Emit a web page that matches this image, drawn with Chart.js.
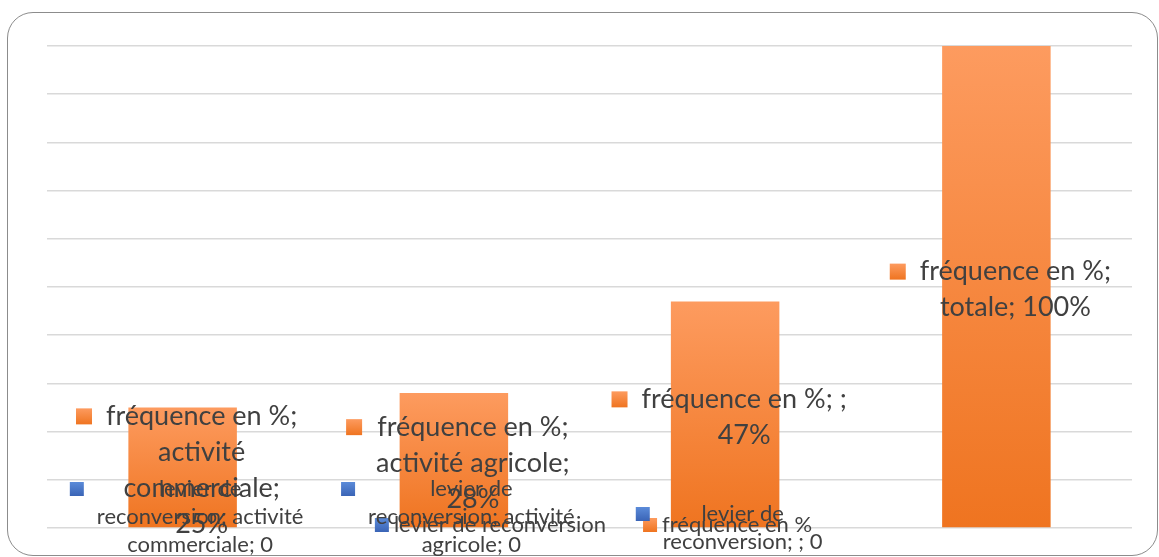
<!DOCTYPE html>
<html>
<head>
<meta charset="utf-8">
<script src="https://cdn.jsdelivr.net/npm/chart.js@4.4.1/dist/chart.umd.min.js"></script>
<style>
  html, body { margin: 0; padding: 0; background: #ffffff; }
  #wrap { position: relative; width: 1159px; height: 557px; overflow: hidden; }
  #frame { position: absolute; left: 7px; top: 12px; width: 1151px; height: 544px;
           border: 1px solid #8c8c8c; border-radius: 26px; box-sizing: border-box; }
  canvas { position: absolute; left: 0; top: 0; }
</style>
</head>
<body>
<div id="wrap">
  <div id="frame"></div>
  <canvas id="chart" width="1159" height="557"></canvas>
</div>
<script>
// Categories and series
const categories = ['activité commerciale', 'activité agricole', '', 'totale'];
const frequenceValues = [25, 28, 47, 100];
const levierValues = [0, 0, 0, null];
const seriesNames = ['fréquence en %', 'levier de reconversion'];
const valueSuffixes = ['%', ''];
// Value axis
const yMin = 0;
const yMax = 100;
const yStep = 10;

const FONT_FAMILY = 'Lato, "Noto Sans", sans-serif';
const TEXT_COLOR = '#404040';
const WRAP_WIDTH = 212;

// Style of the data labels of each series
const labelStyles = [
  { size: 27, lineH: 36, key: 16, gap: 14 },
  { size: 22, lineH: 28, key: 14, gap: 13 }
];

function orangeFill(ctx, top, bottom) {
  const g = ctx.createLinearGradient(0, top, 0, bottom);
  g.addColorStop(0, '#FD9B5F');
  g.addColorStop(1, '#EF7420');
  return g;
}
function blueFill(ctx, top, bottom) {
  const g = ctx.createLinearGradient(0, top, 0, bottom);
  g.addColorStop(0, '#5B8BD9');
  g.addColorStop(1, '#3A64B6');
  return g;
}
const keyFills = [orangeFill, blueFill];

function barGradient(context) {
  const chart = context.chart;
  const { ctx, chartArea, scales } = chart;
  if (!chartArea || context.type !== 'data' || !scales.y) return '#F58634';
  const top = scales.y.getPixelForValue(context.raw);
  const base = scales.y.getPixelForValue(0);
  if (!isFinite(top) || Math.abs(base - top) < 1) return '#F58634';
  return orangeFill(ctx, top, base);
}

function wrapWords(ctx, text, maxW) {
  const words = text.split(' ');
  const lines = [];
  let cur = '';
  for (const w of words) {
    const trial = cur ? cur + ' ' + w : w;
    if (cur && ctx.measureText(trial).width > maxW) {
      lines.push(cur);
      cur = w;
    } else {
      cur = trial;
    }
  }
  if (cur) lines.push(cur);
  return lines;
}

function drawKey(ctx, ds, x, y, size) {
  ctx.fillStyle = keyFills[ds](ctx, y, y + size);
  ctx.fillRect(x, y, size, size);
}

// Data labels "series; category; value" with legend key, plus bottom legend
const labelPlugin = {
  id: 'seriesLabels',
  afterDraw(chart) {
    const ctx = chart.ctx;
    const area = chart.chartArea;
    ctx.save();
    ctx.textBaseline = 'middle';

    // bottom legend
    const small = labelStyles[1];
    ctx.font = small.size + 'px ' + FONT_FAMILY;
    const legendOrder = [1, 0];
    const itemGap = 37, keyGap = 5;
    const widths = legendOrder.map(i => small.key + keyGap + ctx.measureText(seriesNames[i]).width);
    const total = widths.reduce((a, b) => a + b, 0) + itemGap * (legendOrder.length - 1);
    let lx = (area.left + area.right) / 2 + 4 - total / 2;
    const ly = 525;
    legendOrder.forEach((i, k) => {
      drawKey(ctx, i, lx, ly - small.key / 2, small.key);
      ctx.fillStyle = TEXT_COLOR;
      ctx.textAlign = 'left';
      ctx.fillText(seriesNames[i], lx + small.key + keyGap, ly);
      lx += widths[k] + itemGap;
    });

    // data labels
    chart.data.datasets.forEach((dataset, ds) => {
      const meta = chart.getDatasetMeta(ds);
      const st = labelStyles[ds];
      ctx.font = st.size + 'px ' + FONT_FAMILY;
      dataset.data.forEach((v, j) => {
        if (v === null || v === undefined) return;
        const bar = meta.data[j];
        const text = seriesNames[ds] + '; ' + categories[j] + '; ' + v + valueSuffixes[ds];
        const lines = wrapWords(ctx, text, WRAP_WIDTH);
        const textW = Math.max(...lines.map(l => ctx.measureText(l).width));
        const boxW = st.key + st.gap + textW;
        const boxLeft = bar.x + 4 - boxW / 2;
        const textCx = boxLeft + st.key + st.gap + textW / 2;
        const blockH = lines.length * st.lineH;
        let center = ds === 0 ? (bar.y + bar.base) / 2 + 3 : bar.base;
        const maxBottom = 559;
        if (center + blockH / 2 > maxBottom) center = maxBottom - blockH / 2;
        const firstY = center - blockH / 2 + st.lineH / 2;
        drawKey(ctx, ds, boxLeft, firstY - st.key / 2, st.key);
        ctx.fillStyle = TEXT_COLOR;
        ctx.textAlign = 'center';
        lines.forEach((l, k) => ctx.fillText(l, textCx, firstY + k * st.lineH));
      });
    });
    ctx.restore();
  }
};

new Chart(document.getElementById('chart'), {
  type: 'bar',
  data: {
    labels: categories,
    datasets: [
      {
        label: seriesNames[0],
        data: frequenceValues,
        backgroundColor: barGradient,
        grouped: false,
        categoryPercentage: 1,
        barPercentage: 0.4,
        order: 1
      },
      {
        label: seriesNames[1],
        data: levierValues,
        backgroundColor: '#4472C4',
        grouped: false,
        categoryPercentage: 1,
        barPercentage: 0.4,
        order: 0
      }
    ]
  },
  options: {
    responsive: false,
    maintainAspectRatio: false,
    animation: false,
    layout: { padding: { left: 47, right: 27, top: 46, bottom: 29 } },
    plugins: { legend: { display: false }, tooltip: { enabled: false } },
    scales: {
      x: { display: false },
      y: {
        min: yMin, max: yMax,
        ticks: { display: false, stepSize: yStep },
        grid: { color: '#d9d9d9', lineWidth: 1.5, drawTicks: false },
        border: { display: false }
      }
    }
  },
  plugins: [labelPlugin]
});
</script>
</body>
</html>
